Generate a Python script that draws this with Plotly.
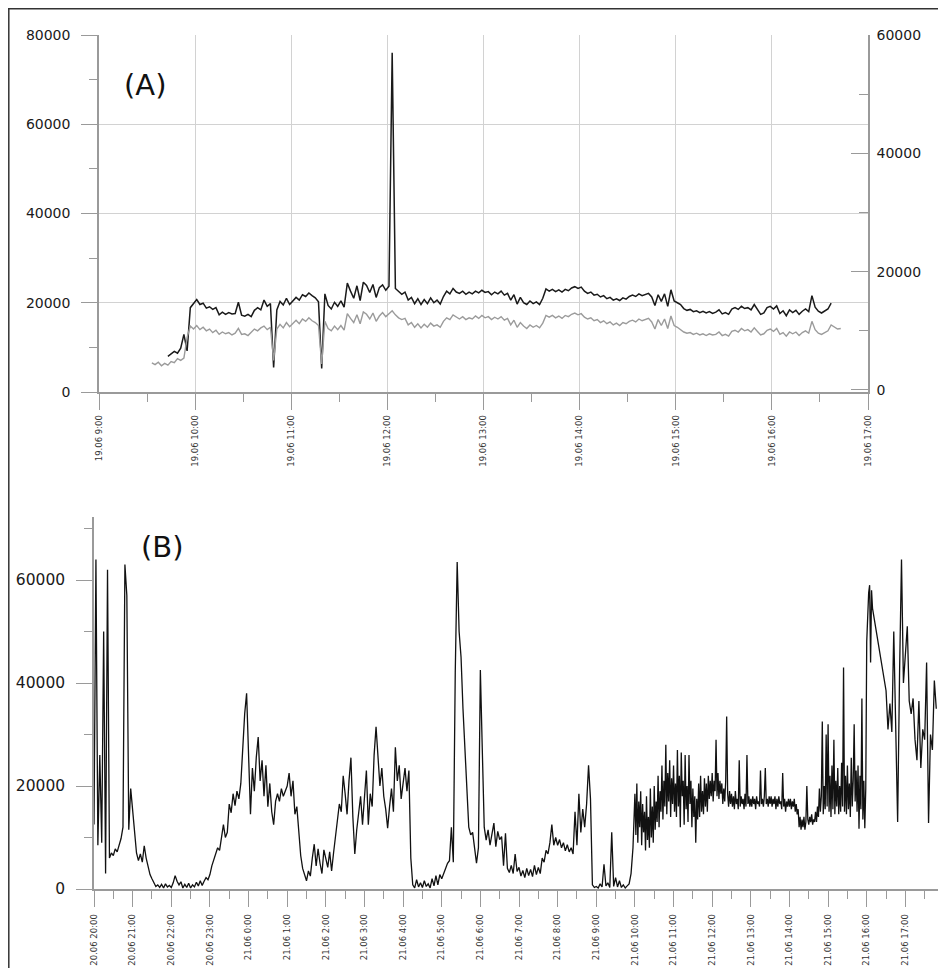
import pandas as pd
import plotly.graph_objects as go

# page offset of the figure inside the browser page (default body margin)
OX, OY = 8, 8
W, H = 946 - OX, 968 - OY

# ---------------- Panel A (19.06) : values in thousands ----------------
a_black_start = "2011-06-19 09:43"
a_gray_start = "2011-06-19 09:33"
a_step = "2min"
a_black_k = [
    8.0, 8.5, 9.1, 8.7, 9.8, 12.9, 9.2, 18.9, 19.7, 20.7, 19.6, 19.9, 18.8, 19.1, 18.5,
    18.9, 17.3, 17.9, 17.4, 17.8, 17.5, 17.6, 20.1, 17.2, 17.0, 17.4, 16.9, 18.3, 18.9, 18.4,
    20.6, 19.2, 19.8, 5.5, 18.4, 20.3, 19.5, 21.0, 19.6, 20.4, 21.2, 20.6, 21.8, 21.4, 22.2,
    21.6, 21.1, 20.2, 5.3, 22.0, 19.4, 18.6, 20.1, 19.2, 20.4, 19.0, 24.4, 22.6, 21.0, 23.8,
    20.5, 24.6, 23.9, 22.3, 24.1, 21.2, 23.4, 24.0, 22.8, 23.7, 76.0, 23.2, 22.6, 21.9, 22.4,
    20.6, 21.2, 19.8, 20.9, 19.6, 20.7, 19.8, 21.1, 20.0, 20.6, 19.7, 21.4, 22.6, 22.0, 23.2,
    22.4, 22.1, 22.6, 21.9, 22.4, 22.0, 22.6, 22.2, 22.8, 22.3, 22.5, 21.8, 22.4, 22.0, 22.6,
    21.7, 22.1, 20.6, 21.8, 19.7, 21.2, 20.0, 19.6, 20.4, 19.8, 20.2, 19.6, 21.0, 23.1, 22.6,
    23.0, 22.5, 22.9, 22.4, 23.0, 22.7, 23.3, 23.6, 23.2, 23.5, 22.6, 22.1, 22.4, 21.7, 21.9,
    21.3, 21.6, 20.9, 21.2, 20.6, 20.9, 20.5, 21.1, 20.8, 21.4, 21.7, 21.4, 22.0, 21.6, 21.9,
    22.1, 21.3, 19.4, 21.8, 20.3, 22.0, 19.2, 22.9, 20.4, 20.0, 19.6, 18.7, 18.3, 18.5, 18.0,
    18.2, 17.8, 18.1, 17.7, 18.0, 17.6, 17.9, 18.4, 17.5, 17.8, 17.4, 18.6, 18.9, 18.5, 19.2,
    18.7, 18.9, 18.4, 19.6, 18.6, 17.4, 17.7, 18.9, 19.2, 18.6, 19.3, 17.6, 18.2, 17.1, 18.4,
    17.8, 18.3, 17.4, 18.1, 18.6, 18.0, 21.6, 19.0, 18.1, 17.7, 18.2, 18.6, 19.9,
]
# grey series, read against the right-hand axis
a_gray_k = [
    4.6, 4.3, 4.7, 4.1, 4.5, 4.2, 4.8, 4.6, 5.3, 5.0, 5.4, 8.9, 10.8, 10.3, 10.9,
    10.2, 10.6, 10.0, 10.3, 9.7, 10.1, 9.4, 9.8, 9.5, 9.7, 9.3, 9.6, 10.4, 9.4, 9.5,
    9.2, 9.8, 10.3, 10.0, 10.5, 10.8, 10.2, 10.6, 5.0, 10.3, 11.1, 10.5, 11.4, 10.7, 11.3,
    11.8, 11.2, 12.0, 11.6, 12.2, 11.7, 11.4, 10.9, 4.4, 11.6, 10.4, 10.0, 10.8, 10.2, 10.9,
    10.1, 12.9, 12.1, 11.4, 12.7, 11.2, 13.2, 12.8, 12.0, 13.0, 11.6, 12.5, 13.1, 12.4, 12.9,
    13.4, 12.7, 12.2, 11.9, 12.1, 11.0, 11.4, 10.6, 11.2, 10.5, 11.1, 10.6, 11.3, 10.8, 11.0,
    10.6, 11.6, 12.2, 11.9, 12.7, 12.3, 12.0, 12.4, 11.9, 12.2, 12.0, 12.5, 12.1, 12.6, 12.2,
    12.4, 11.9, 12.3, 12.0, 12.4, 11.8, 12.1, 11.0, 11.8, 10.6, 11.4, 10.8, 10.4, 11.0, 10.6,
    10.9, 10.5, 11.3, 12.6, 12.3, 12.6, 12.2, 12.5, 12.1, 12.6, 12.4, 12.8, 13.0, 12.7, 12.9,
    12.3, 12.0, 12.2, 11.7, 11.9, 11.4, 11.7, 11.2, 11.5, 11.0, 11.3, 10.9, 11.4, 11.2, 11.6,
    11.8, 11.5, 12.0, 11.7, 11.9, 12.1, 11.5, 10.3, 11.9, 10.9, 12.0, 10.4, 12.5, 10.9, 10.6,
    10.2, 9.8, 9.6, 9.7, 9.4, 9.6, 9.3, 9.5, 9.2, 9.5, 9.3, 9.4, 9.8, 9.2, 9.4,
    9.1, 9.9, 10.1, 9.8, 10.4, 10.0, 10.2, 9.8, 10.5, 9.9, 9.3, 9.5, 10.1, 10.3, 9.9,
    10.4, 9.4, 9.7, 9.1, 9.8, 9.5, 9.8, 9.2, 9.7, 10.0, 9.6, 11.6, 10.2, 9.6, 9.4,
    9.7, 10.0, 11.0, 10.6, 10.3, 10.4,
]

# ---------------- Panel B (20.06 - 21.06) : values in thousands ----------------
# part 1: 20.06 20:00 - 21.06 9:57, every 3 minutes
b_p1_start = "2011-06-20 20:00"
b_p1_step = "3min"
b_p1_k = [
    # 20:00
    12.5, 64.0, 8.5, 26.0, 9.0, 50.0, 3.0, 62.0, 6.0, 7.0, 6.5, 7.8, 7.2, 8.3, 9.8, 12.0, 63.0, 57.0, 11.5, 19.5,
    # 21:00
    15.0, 11.5, 7.0, 5.5, 6.8, 5.2, 8.4, 6.0, 4.5, 2.8, 2.0, 1.2, 0.5, 0.8, 0.3, 0.9, 0.2, 1.0, 0.4, 0.7,
    # 22:00
    0.3, 1.2, 2.6, 1.5, 0.8, 1.4, 0.2, 0.9, 0.3, 1.1, 0.2, 0.8, 0.4, 1.3, 0.6, 1.6, 0.7, 1.5, 2.2, 1.8,
    # 23:00
    2.8, 4.5, 5.8, 6.6, 8.0, 7.5, 9.8, 12.5, 10.0, 11.0, 16.5, 14.8, 18.5, 16.2, 19.0, 17.5, 20.5, 27.5, 34.0, 38.0,
    # 0:00
    24.0, 14.5, 23.5, 19.0, 25.5, 29.5, 21.0, 25.0, 18.0, 24.0, 16.0, 20.5, 15.0, 12.5, 17.0, 18.5, 17.0, 19.5, 18.0, 19.0,
    # 1:00
    20.0, 22.5, 18.0, 21.0, 14.5, 16.0, 10.5, 6.5, 4.0, 3.0, 1.6, 3.5, 2.5, 6.0, 8.7, 4.5, 7.8, 5.0, 3.0, 7.6,
    # 2:00
    6.0, 4.2, 7.2, 3.5, 7.0, 10.5, 13.0, 16.5, 15.0, 22.0, 18.5, 14.5, 21.0, 25.5, 14.0, 6.8, 11.5, 14.5, 18.0, 12.5,
    # 3:00
    17.5, 23.0, 12.5, 18.5, 16.0, 26.0, 31.5, 24.5, 20.0, 23.5, 18.0, 15.5, 11.8, 16.0, 19.5, 15.0, 27.5, 21.0, 24.0, 17.5,
    # 4:00
    20.5, 23.5, 19.0, 23.0, 6.0, 0.8, 0.2, 1.8, 0.4, 1.2, 0.3, 1.6, 0.5, 1.0, 0.2, 2.0, 0.6, 2.6, 0.8, 2.8,
    # 5:00
    2.0, 3.2, 4.0, 5.0, 5.5, 12.0, 5.2, 42.0, 63.5, 50.0, 45.0, 35.0, 27.0, 21.0, 12.0, 10.5, 11.0, 8.0, 5.0, 8.0,
    # 6:00
    42.5, 27.0, 12.0, 9.5, 11.5, 8.5, 10.8, 12.8, 8.2, 11.2, 9.6, 10.2, 4.5, 10.8, 4.0, 3.2, 4.6, 3.0, 6.8, 3.4,
    # 7:00
    4.2, 2.5, 3.6, 2.2, 4.0, 2.6, 3.8, 2.4, 4.6, 2.8, 4.2, 3.0, 6.0, 5.2, 7.5, 6.8, 9.0, 12.5, 8.5, 10.0,
    # 8:00
    8.5, 9.6, 8.0, 9.0, 7.4, 8.6, 7.2, 8.0, 6.8, 15.0, 8.5, 18.5, 11.0, 15.5, 12.0, 16.5, 24.0, 17.5, 0.8, 0.3,
    # 9:00
    0.5, 0.2, 1.0, 0.4, 4.8, 0.6, 1.2, 0.3, 11.0, 0.5, 2.2, 0.4, 1.6, 0.3, 0.8, 0.2, 0.6, 1.0, 3.0, 8.0,
]
# part 2: 21.06 10:00 - 16:09, every 90 seconds (dense, noisy period)
b_p2_start = "2011-06-21 10:00"
b_p2_step = "90s"
b_p2_k = [
    # 10:00
    18.5, 10.5, 20.5, 9.0, 17.0, 12.0, 19.0, 8.5, 16.5, 11.0,
    15.0, 7.5, 18.0, 9.5, 14.0, 8.0, 19.5, 10.0, 16.0, 9.0,
    20.0, 11.5, 17.0, 13.0, 22.0, 12.0, 19.0, 15.0, 24.0, 13.5,
    21.0, 16.0, 28.0, 14.5, 22.5, 17.0, 25.0, 14.0, 21.5, 16.5,
    # 11:00
    24.0, 15.0, 20.5, 14.0, 27.0, 16.0, 22.0, 12.0, 26.5, 18.0,
    21.0, 12.5, 26.0, 15.5, 20.0, 13.0, 26.0, 16.5, 21.0, 12.0,
    19.5, 14.0, 18.0, 9.0, 17.5, 13.5, 20.5, 14.0, 22.0, 15.0,
    19.0, 14.5, 21.5, 16.0, 20.5, 15.0, 22.0, 17.5, 21.0, 18.0,
    # 12:00
    22.5, 17.0, 21.0, 19.0, 29.0, 18.0, 22.5, 17.5, 21.0, 18.5,
    20.5, 16.5, 19.5, 17.0, 21.0, 33.5, 18.5, 16.0, 19.0, 16.5,
    18.5, 16.0, 18.0, 15.5, 19.0, 16.5, 17.5, 15.5, 25.0, 16.0,
    18.0, 16.5, 17.5, 15.5, 18.5, 16.0, 26.0, 16.5, 18.0, 16.0,
    # 13:00
    17.5, 16.0, 18.0, 16.5, 17.5, 15.5, 18.0, 16.5, 17.0, 16.0,
    23.0, 16.5, 17.5, 16.0, 18.0, 23.5, 16.5, 17.5, 16.0, 18.0,
    16.5, 18.0, 16.0, 17.5, 16.5, 18.0, 15.5, 17.5, 16.0, 18.0,
    16.5, 17.0, 15.5, 22.5, 16.0, 17.5, 15.0, 17.0, 16.0, 17.5,
    # 14:00
    16.0, 17.5, 15.5, 17.0, 16.0, 17.5, 15.0, 16.5, 14.5, 15.5,
    12.0, 14.0, 11.5, 13.5, 12.0, 14.0, 11.5, 13.0, 20.0, 13.5,
    12.5, 14.0, 13.0, 14.5, 12.5, 13.5, 13.0, 15.0, 13.0, 16.0,
    14.0, 19.5, 15.0, 18.0, 32.5, 14.5, 20.0, 15.5, 30.0, 16.0,
    # 15:00
    32.0, 15.0, 22.0, 14.0, 24.0, 15.5, 29.0, 14.5, 21.0, 16.0,
    23.5, 14.5, 20.0, 15.0, 24.5, 16.0, 43.0, 15.0, 22.0, 14.5,
    24.0, 15.5, 20.5, 14.0, 25.5, 16.0, 21.0, 32.0, 17.0, 23.0,
    15.0, 24.0, 11.7, 22.0, 15.5, 37.0, 13.5, 21.0, 11.8, 19.5,
    # 16:00 - 16:09
    48.0, 55.0, 57.5, 59.0, 44.0, 58.0, 54.5,
]
# part 3: 21.06 16:30 - 17:48, every 3 minutes (after a gap in the record)
b_p3_start = "2011-06-21 16:30"
b_p3_step = "3min"
b_p3_k = [
    38.5, 31.0, 36.0, 30.5, 50.0, 33.5, 13.0, 42.0, 64.0, 40.0, 45.0, 51.0, 36.5, 34.0,
    37.0, 29.0, 25.0, 36.5, 23.5, 31.0, 29.0, 44.0, 12.8, 30.0, 27.0, 40.5, 35.0,
]

# ---------------- build series ----------------
a_black_t = pd.date_range(a_black_start, periods=len(a_black_k), freq=a_step)
a_gray_t = pd.date_range(a_gray_start, periods=len(a_gray_k), freq=a_step)
a_black_y = [v * 1000 for v in a_black_k]
a_gray_y = [v * 1000 for v in a_gray_k]

b_t = (list(pd.date_range(b_p1_start, periods=len(b_p1_k), freq=b_p1_step))
       + list(pd.date_range(b_p2_start, periods=len(b_p2_k), freq=b_p2_step))
       + list(pd.date_range(b_p3_start, periods=len(b_p3_k), freq=b_p3_step)))
b_y = [v * 1000 for v in b_p1_k + b_p2_k + b_p3_k]

# ---------------- pixel layout helpers (page pixels -> paper fractions) ----------------
def px(x):
    return (x - OX) / W

def py(y):
    return 1 - (y - OY) / H

AXIS = "#9a9a9a"
GRID = "#d2d2d2"
TXT = "#1a1a1a"
FONT = "DejaVu Sans"

fig = go.Figure()
fig.add_trace(go.Scatter(x=a_gray_t, y=a_gray_y, mode="lines", xaxis="x", yaxis="y2",
                         line=dict(color="#9b9b9b", width=1.4), showlegend=False))
fig.add_trace(go.Scatter(x=a_black_t, y=a_black_y, mode="lines", xaxis="x", yaxis="y",
                         line=dict(color="#1a1a1a", width=1.5), showlegend=False))
fig.add_trace(go.Scatter(x=b_t, y=b_y, mode="lines", xaxis="x2", yaxis="y3",
                         line=dict(color="#111111", width=1.3), showlegend=False))

date_tick_font = dict(family=FONT, size=8.5, color="#333333")
num_font_a = dict(family=FONT, size=14, color=TXT)
num_font_b = dict(family=FONT, size=15.5, color=TXT)

fig.update_layout(
    width=W, height=H,
    margin=dict(l=0, r=0, t=0, b=0),
    paper_bgcolor="white", plot_bgcolor="white",
    xaxis=dict(
        domain=[px(99), px(868)], anchor="y",
        type="date",
        range=["2011-06-19 09:00", "2011-06-19 17:00"],
        tick0="2011-06-19 09:00", dtick=3600000, tickformat="%d.%m %-H:%M",
        tickangle=-90, tickfont=date_tick_font,
        ticks="outside", ticklen=16, tickcolor=AXIS, tickwidth=1,
        minor=dict(dtick=1800000, ticks="outside", ticklen=8, tickcolor=AXIS, showgrid=False),
        showgrid=True, gridcolor=GRID, gridwidth=1,
        showline=True, linecolor=AXIS, linewidth=1.5,
        zeroline=False, automargin=False, ticklabelstandoff=2,
    ),
    yaxis=dict(
        domain=[py(392), py(35)], anchor="x",
        range=[0, 80000], tick0=0, dtick=20000, tickformat="d",
        tickfont=num_font_a,
        ticks="outside", ticklen=16, tickcolor=AXIS,
        minor=dict(dtick=10000, ticks="outside", ticklen=8, tickcolor=AXIS, showgrid=False),
        showgrid=True, gridcolor=GRID, gridwidth=1,
        showline=True, linecolor=AXIS, linewidth=1.5,
        zeroline=False, automargin=False, ticklabelstandoff=8,
    ),
    yaxis2=dict(
        overlaying="y", side="right", anchor="x",
        range=[-340, 60000], tick0=0, dtick=20000, tickformat="d",
        tickfont=num_font_a,
        ticks="inside", ticklen=17, tickcolor=AXIS,
        minor=dict(dtick=10000, ticks="inside", ticklen=9, tickcolor=AXIS, showgrid=False),
        showgrid=False,
        showline=True, linecolor=AXIS, linewidth=1.5,
        zeroline=False, automargin=False, ticklabelstandoff=4,
    ),
    xaxis2=dict(
        domain=[px(94), px(944)], anchor="y3",
        type="date",
        range=["2011-06-20 20:00", "2011-06-21 18:00"],
        tick0="2011-06-20 20:00", dtick=3600000, tickformat="%d.%m %-H:%M",
        tickangle=-90, tickfont=date_tick_font,
        ticks="outside", ticklen=16, tickcolor=AXIS, tickwidth=1,
        minor=dict(dtick=1800000, ticks="outside", ticklen=8, tickcolor=AXIS, showgrid=False),
        showgrid=False,
        showline=True, linecolor=AXIS, linewidth=1.5,
        zeroline=False, automargin=False, ticklabelstandoff=4,
        ticklabeloverflow="allow",
    ),
    yaxis3=dict(
        domain=[py(889), py(517)], anchor="x2",
        range=[0, 72233], tick0=0, dtick=20000, tickformat="d",
        tickfont=num_font_b,
        ticks="outside", ticklen=16, tickcolor=AXIS,
        minor=dict(dtick=10000, ticks="outside", ticklen=8, tickcolor=AXIS, showgrid=False),
        showgrid=False,
        showline=True, linecolor=AXIS, linewidth=1.5,
        zeroline=False, automargin=False, ticklabelstandoff=8,
    ),
    annotations=[
        dict(text="(A)", x=px(145), y=py(85), xref="paper", yref="paper",
             xanchor="center", yanchor="middle", showarrow=False,
             font=dict(family=FONT, size=29, color="#111111")),
        dict(text="(B)", x=px(162), y=py(547), xref="paper", yref="paper",
             xanchor="center", yanchor="middle", showarrow=False,
             font=dict(family=FONT, size=29, color="#111111")),
    ],
    shapes=[
        dict(type="line", xref="paper", yref="paper", x0=0, x1=1.0, y0=1 - 0.8 / H, y1=1 - 0.8 / H,
             line=dict(color="#333333", width=1.5)),
        dict(type="line", xref="paper", yref="paper", x0=0.8 / W, x1=0.8 / W, y0=1.0, y1=0.0,
             line=dict(color="#333333", width=1.5)),
    ],
)

fig.write_html("out.html")
